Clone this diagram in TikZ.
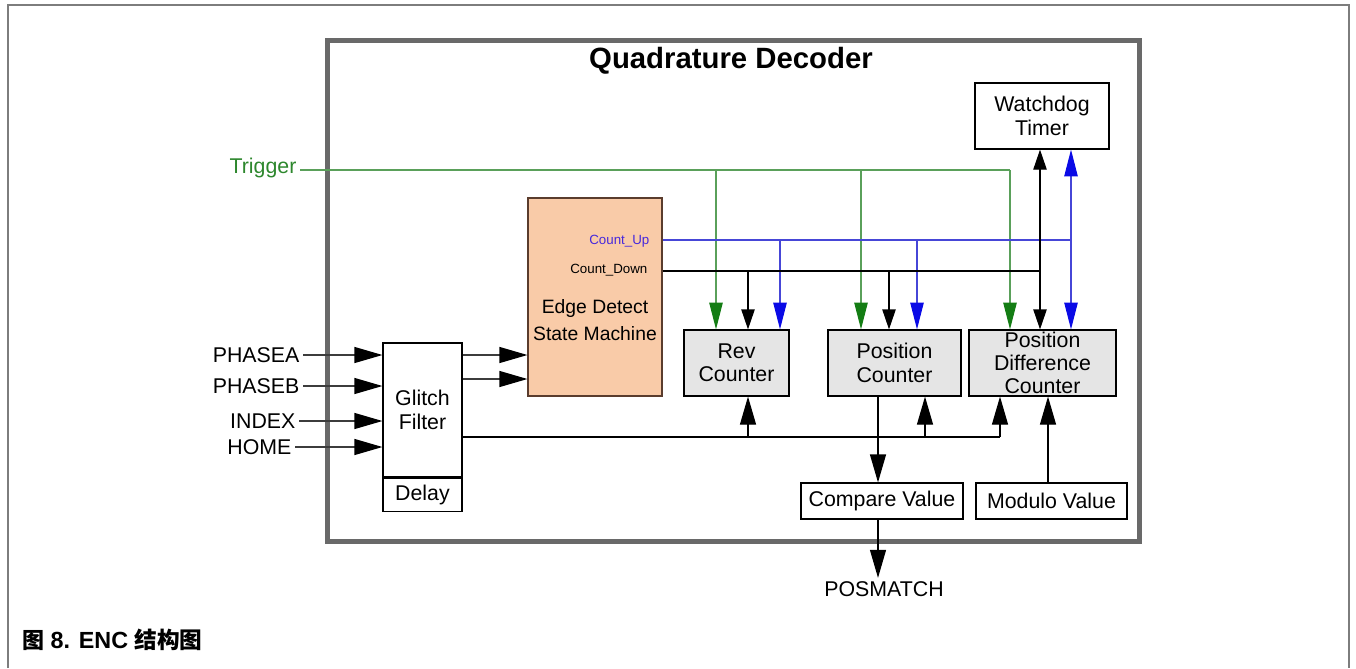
\documentclass[tikz,border=0pt]{standalone}
\usepackage{fontspec}
\setmainfont{Liberation Sans}
\newfontfamily\cjkfont{Noto Sans CJK SC}
\usetikzlibrary{arrows.meta,calc}

\definecolor{peach}{RGB}{249,203,168}
\definecolor{edgeborder}{RGB}{90,60,45}
\definecolor{ctrgray}{RGB}{229,229,229}
\definecolor{boxgray}{RGB}{105,105,105}
\definecolor{framegray}{RGB}{125,125,125}
\definecolor{trgline}{RGB}{90,160,90}
\definecolor{trgtip}{RGB}{20,125,20}
\definecolor{trgtext}{RGB}{45,135,45}
\definecolor{upline}{RGB}{70,70,215}
\definecolor{uptip}{RGB}{10,10,230}
\definecolor{uptext}{RGB}{70,40,220}
\definecolor{inwire}{RGB}{60,60,60}

\newcommand\dgmfont{\fontsize{16}{17.5}\selectfont}

\tikzset{
  blk/.style={draw=black, line width=0.9pt, inner sep=0pt, align=center, font=\dgmfont},
  ctr/.style={blk, fill=ctrgray},
  lbl/.style={font=\dgmfont, inner sep=2.5pt},
  wire/.style={line width=0.9pt, draw=black},
  trgwire/.style={line width=0.9pt, draw=trgline},
  upwire/.style={line width=0.9pt, draw=upline},
  bigarr/.style={-{Triangle[length=21pt,width=12pt,color=black]}},
  smarr/.style={-{Triangle[length=15pt,width=10pt]}},
  gtip/.style={-{Triangle[length=20pt,width=10pt,color=trgtip]}},
  btip/.style={-{Triangle[length=20pt,width=10pt,color=uptip]}},
}

\begin{document}
\begin{tikzpicture}[x=0.75pt,y=-0.75pt]
\useasboundingbox (0,0) rectangle (1356,668);

% page frame
\draw[framegray, line width=1.5pt] (8,668) -- (8,5) -- (1349,5) -- (1349,668);

% decoder enclosure
\draw[boxgray, line width=3.75pt] (327,40) rectangle (1139,541);
\node[font=\bfseries\fontsize{22}{24}\selectfont] (title) at (731,61) {Quadrature Decoder};

% blocks
\node[blk, minimum width=100.5pt, minimum height=49.5pt] (wd) at (1042,116) {Watchdog\\Timer};
\node[blk, draw=edgeborder, fill=peach, minimum width=100.5pt, minimum height=148.5pt] (edge) at (595,297) {};
\node[font=\fontsize{14.5}{20}\selectfont, align=center] (edgetxt) at (595,320) {Edge Detect\\State Machine};
\node[anchor=east, font=\fontsize{10}{12}\selectfont, text=uptext, inner sep=1pt] (cup) at (651,241) {Count\_Up};
\node[anchor=east, font=\fontsize{10}{12}\selectfont, inner sep=1pt] (cdn) at (649,270) {Count\_Down};

\node[blk, minimum width=59.25pt, minimum height=100.5pt] (gf) at (422.5,410) {Glitch\\Filter};
\node[blk, minimum width=59.25pt, minimum height=24.75pt, anchor=north] (dl) at (gf.south) {Delay};

\node[ctr, minimum width=78.75pt, minimum height=49.5pt] (rev) at (736.5,363) {Rev\\Counter};
\node[ctr, minimum width=99.75pt, minimum height=49.5pt] (pos) at (894.5,363) {Position\\Counter};
\node[ctr, minimum width=110.25pt, minimum height=49.5pt, font=\fontsize{16}{17}\selectfont] (pd) at (1042.5,363) {Position\\Difference\\Counter};

\node[blk, minimum width=121.5pt, minimum height=27pt] (cmp) at (882,501) {Compare Value};
\node[blk, minimum width=113.25pt, minimum height=27pt] (mod) at (1051.5,501) {Modulo Value};

% external labels
\node[lbl, anchor=east, text=trgtext] (trg) at (300,168) {Trigger};
\node[lbl, anchor=east] (pa) at (303,355) {PHASEA};
\node[lbl, anchor=east] (pb) at (303,386) {PHASEB};
\node[lbl, anchor=east] (ix) at (299,421) {INDEX};
\node[lbl, anchor=east] (hm) at (295,447) {HOME};
\node[lbl] (pm) at (884,589) {POSMATCH};
\node[anchor=west, inner sep=0pt, font=\bfseries\fontsize{17.5}{20}\selectfont] (cap) at (22,640) {{\cjkfont\bfseries\fontsize{16.5}{20}\selectfont 图} 8. ENC {\cjkfont\bfseries\fontsize{17}{20}\selectfont 结构图}};

% trigger distribution
\coordinate (t1) at (716,170);
\coordinate (t2) at (861,170);
\coordinate (t3) at (1010,170);
\draw[trgwire] (trg.east |- t1) -- (t3);
\draw[trgwire, gtip] (t1) -- (t1 |- rev.north);
\draw[trgwire, gtip] (t2) -- (t2 |- pos.north);
\draw[trgwire, gtip] (t3) -- (t3 |- pd.north);

% count up
\coordinate (u1) at (780,240);
\coordinate (u2) at (917,240);
\coordinate (u3) at (1071,240);
\draw[upwire] (edge.east |- u1) -- (u3);
\draw[upwire, btip] (u1) -- (u1 |- rev.north);
\draw[upwire, btip] (u2) -- (u2 |- pos.north);
\draw[upwire, {Triangle[length=20pt,width=10pt,color=uptip]}-{Triangle[length=20pt,width=10pt,color=uptip]}] (u3 |- wd.south) -- (u3 |- pd.north);

% count down
\coordinate (d1) at (748,271);
\coordinate (d2) at (889,271);
\coordinate (d3) at (1040,271);
\draw[wire] (edge.east |- d1) -- (d3);
\draw[wire, smarr] (d1) -- (d1 |- rev.north);
\draw[wire, smarr] (d2) -- (d2 |- pos.north);
\draw[wire, {Triangle[length=15pt,width=10pt]}-{Triangle[length=15pt,width=10pt]}] (d3 |- wd.south) -- (d3 |- pd.north);

% inputs into the glitch filter
\draw[wire, draw=inwire, bigarr] (pa.east) -- (pa.east -| gf.west);
\draw[wire, draw=inwire, bigarr] (pb.east) -- (pb.east -| gf.west);
\draw[wire, draw=inwire, bigarr] (ix.east) -- (ix.east -| gf.west);
\draw[wire, draw=inwire, bigarr] (hm.east) -- (hm.east -| gf.west);

% filtered phases into the state machine
\coordinate (e1) at (500,355);
\coordinate (e2) at (500,379);
\draw[wire, draw=inwire, bigarr] (gf.east |- e1) -- (edge.west |- e1);
\draw[wire, draw=inwire, bigarr] (gf.east |- e2) -- (edge.west |- e2);

% filtered index/home to the counters
\coordinate (b1) at (748,437);
\coordinate (b2) at (925,437);
\coordinate (b3) at (1000,437);
\draw[wire] (gf.east |- b1) -- (b3);
\draw[wire, bigarr] (b1) -- (b1 |- rev.south);
\draw[wire, bigarr] (b2) -- (b2 |- pos.south);
\draw[wire, bigarr] (b3) -- (b3 |- pd.south);

% compare path
\coordinate (cx) at (878,450);
\draw[wire, bigarr] (cx |- pos.south) -- (cx |- cmp.north);
\draw[wire, bigarr] (cx |- cmp.south) -- (cx |- pm.north);

% modulo path
\coordinate (mx) at (1048,450);
\draw[wire, bigarr] (mx |- mod.north) -- (mx |- pd.south);
\end{tikzpicture}
\end{document}
